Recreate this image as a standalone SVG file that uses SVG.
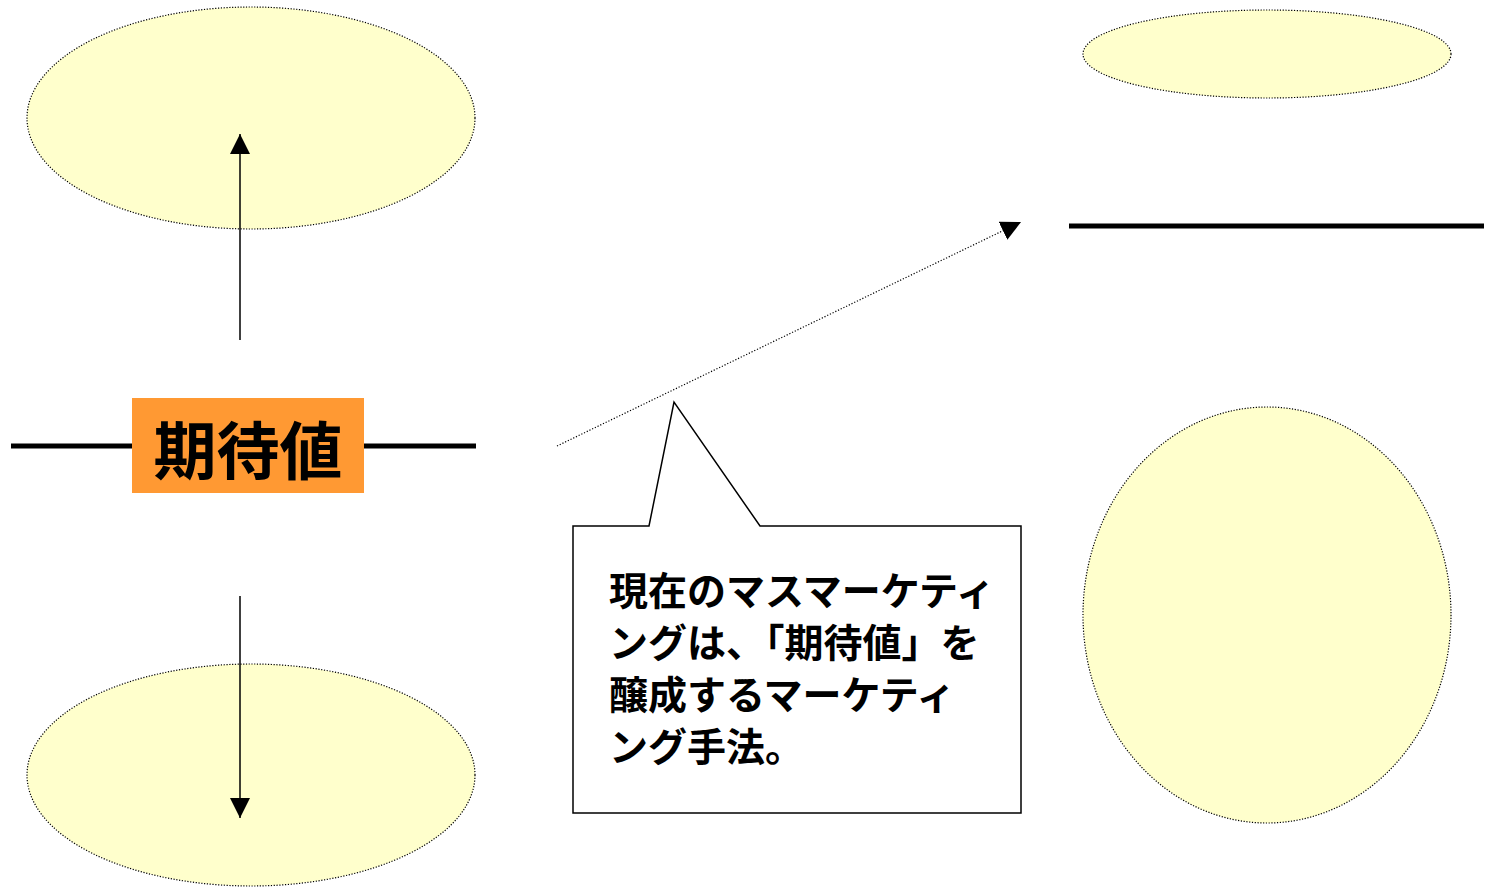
<svg xmlns="http://www.w3.org/2000/svg" width="1487" height="887" viewBox="0 0 1487 887">
<style>
.ell{fill:#FFFFCC;stroke:#000;stroke-width:1.2;stroke-dasharray:1.2 1.6}
.thick{stroke:#000;stroke-width:5}
.conn{stroke:#000;stroke-width:1.5;fill:none}
.dot{stroke:#000;stroke-width:1.2;stroke-dasharray:1.2 1.8;fill:none}
.jp{font-family:"Liberation Sans","Noto Sans CJK JP",sans-serif;font-weight:bold;fill:#000}
</style>
<defs>
<marker id="ahBig" markerWidth="20" markerHeight="20" refX="20" refY="10" orient="auto" markerUnits="userSpaceOnUse" viewBox="0 0 20 20">
<path d="M0,0 L20,10 L0,20 Z" fill="#000"/>
</marker>
</defs>
<rect width="1487" height="887" fill="#fff"/>
<g id="ellipse-top-left"><ellipse class="ell" cx="251" cy="118" rx="224" ry="111"/></g>
<g id="ellipse-bottom-left"><ellipse class="ell" cx="251" cy="775" rx="224" ry="111"/></g>
<g id="ellipse-top-right"><ellipse class="ell" cx="1267" cy="54" rx="184" ry="44"/></g>
<g id="ellipse-bottom-right"><ellipse class="ell" cx="1267" cy="615" rx="184" ry="208"/></g>
<g id="line-left"><line class="thick" x1="11" y1="446" x2="476" y2="446"/></g>
<g id="line-right"><line class="thick" x1="1069" y1="226" x2="1484" y2="226"/></g>
<g id="kitaichi">
<rect x="132" y="398" width="232" height="95" fill="#FF9933"/>
<text class="jp" x="248" y="474" font-size="63" text-anchor="middle">期待値</text>
</g>
<g id="connectors">
<line class="conn" x1="240" y1="340" x2="240" y2="134" marker-end="url(#ahBig)"/>
<line class="conn" x1="240" y1="596" x2="240" y2="818" marker-end="url(#ahBig)"/>
<line class="dot" x1="557" y1="446" x2="1021" y2="222" marker-end="url(#ahBig)"/>
</g>
<g id="callout">
<path d="M573,526 L649,526 L674,402 L760,526 L1021,526 L1021,813 L573,813 Z" fill="#fff" stroke="#000" stroke-width="1.5"/>
<text class="jp" font-size="39">
<tspan x="609" y="605">現在のマスマーケティ</tspan>
<tspan x="609" y="657">ングは、「期待値」を</tspan>
<tspan x="609" y="709">醸成するマーケティ</tspan>
<tspan x="609" y="761">ング手法。</tspan>
</text>
</g>
</svg>
